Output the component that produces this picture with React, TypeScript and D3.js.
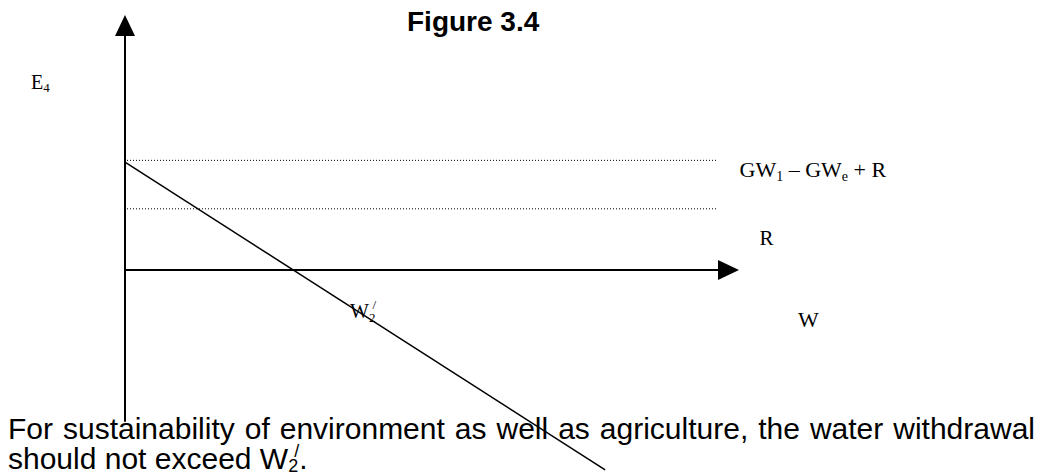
import React, { useEffect, useRef } from 'react';
import * as d3 from 'd3';

// axis domains (abstract units: w = withdrawal, e = level)
const wDomain = [0, 100];
const eDomain = [0, 100];
const eAxisBottom = -59.5;

// horizontal reference levels
const levelNames = ['GW1 – GWe + R', 'R'];
const levelValues = [43, 24];
const levelEnd = 96.5;

// withdrawal line end points
const lineW = [0, 78.2];
const lineE = [42.3, -78.4];

const titleText = 'Figure 3.4';
const captionLine1 = 'For sustainability of environment as well as agriculture, the water withdrawal';
const captionLine2 = 'should not exceed W';

const serif = '"Liberation Serif", "Times New Roman", serif';
const sans = '"Liberation Sans", Arial, sans-serif';

const App = () => {
    const svgRef = useRef<SVGSVGElement | null>(null);

    useEffect(() => {
        const svg = d3.select(svgRef.current);
        svg.selectAll('*').remove();

        const x = d3.scaleLinear().domain(wDomain).range([125, 739]);
        const y = d3.scaleLinear().domain(eDomain).range([270, 15]);

        // dotted level lines
        svg.selectAll('line.level')
            .data(levelValues)
            .enter()
            .append('line')
            .attr('class', 'level')
            .attr('x1', x(0) + 2)
            .attr('x2', x(levelEnd))
            .attr('y1', d => y(d))
            .attr('y2', d => y(d))
            .attr('stroke', '#000')
            .attr('stroke-width', 1)
            .attr('stroke-dasharray', '1,2');

        // vertical axis
        svg.append('line')
            .attr('x1', x(0)).attr('x2', x(0))
            .attr('y1', y(eAxisBottom)).attr('y2', y(eDomain[1]) + 18)
            .attr('stroke', '#000').attr('stroke-width', 2);
        const tipV = [x(0), y(eDomain[1])];
        svg.append('path')
            .attr('d', `M${tipV[0]},${tipV[1]}L${tipV[0] - 10},${tipV[1] + 21}L${tipV[0] + 10},${tipV[1] + 21}Z`)
            .attr('fill', '#000');

        // horizontal axis
        svg.append('line')
            .attr('x1', x(0)).attr('x2', x(wDomain[1]) - 18)
            .attr('y1', y(0)).attr('y2', y(0))
            .attr('stroke', '#000').attr('stroke-width', 2);
        const tipH = [x(wDomain[1]), y(0)];
        svg.append('path')
            .attr('d', `M${tipH[0]},${tipH[1]}L${tipH[0] - 21},${tipH[1] - 10}L${tipH[0] - 21},${tipH[1] + 10}Z`)
            .attr('fill', '#000');

        // withdrawal line
        const pts: [number, number][] = lineW.map((w, i) => [x(w), y(lineE[i])]);
        svg.append('path')
            .attr('d', d3.line()(pts))
            .attr('fill', 'none')
            .attr('stroke', '#000')
            .attr('stroke-width', 1.5);

        // title
        svg.append('text')
            .attr('x', 407).attr('y', 31)
            .attr('font-family', sans).attr('font-weight', 'bold').attr('font-size', 28)
            .text(titleText);

        // E4
        const e4 = svg.append('text')
            .attr('x', x(0) - 94).attr('y', y(71))
            .attr('font-family', serif).attr('font-size', 20);
        e4.append('tspan').text('E');
        e4.append('tspan').attr('font-size', 13).attr('dy', 3).text('4');

        // level labels
        const gw = svg.append('text')
            .attr('x', x(levelEnd) + 22).attr('y', y(levelValues[0]) + 17)
            .attr('font-family', serif).attr('font-size', 22);
        gw.append('tspan').text('GW');
        gw.append('tspan').attr('font-size', 14).attr('dy', 4).text('1');
        gw.append('tspan').attr('dy', -4).text(' – GW');
        gw.append('tspan').attr('font-size', 14).attr('dy', 4).text('e');
        gw.append('tspan').attr('dy', -4).text(' + R');

        svg.append('text')
            .attr('x', x(levelEnd) + 42).attr('y', y(levelValues[1]) + 36)
            .attr('font-family', serif).attr('font-size', 21)
            .text(levelNames[1]);

        svg.append('text')
            .attr('x', x(wDomain[1]) + 59).attr('y', y(0) + 57)
            .attr('font-family', serif).attr('font-size', 22)
            .text('W');

        // W2' label, sitting on the withdrawal line
        const w2 = svg.append('text')
            .attr('x', 350).attr('y', 318)
            .attr('font-family', serif).attr('font-size', 20);
        w2.append('tspan').text('W');
        w2.append('tspan').attr('font-size', 13).attr('dy', 4).text('2');
        w2.append('tspan').attr('font-size', 13).attr('dy', -13).attr('dx', -3).text('/');

        // caption, line 1 justified
        const left = 8, right = 1035;
        const words = captionLine1.split(' ');
        const g = svg.append('g').attr('font-family', sans).attr('font-size', 30);
        const wordNodes = words.map(w => g.append('text').attr('y', 439).text(w));
        const widths = wordNodes.map(n => (n.node() as SVGTextElement).getComputedTextLength());
        const gap = (right - left - d3.sum(widths)) / (words.length - 1);
        let cx = left;
        wordNodes.forEach((n, i) => {
            n.attr('x', cx);
            cx += widths[i] + gap;
        });

        const l2 = g.append('text').attr('x', left).attr('y', 469);
        l2.append('tspan').text(captionLine2);
        l2.append('tspan').attr('font-size', 18).attr('dy', 3).text('2');
        l2.append('tspan').attr('font-size', 18).attr('dy', -15).attr('dx', -4).text('/');
        l2.append('tspan').attr('dy', 12).text('.');
    }, []);

    return (
        <svg ref={svgRef} width={1042} height={476}
            style={{ position: 'absolute', left: 0, top: 0, background: '#fff' }} />
    );
};

export default App;
